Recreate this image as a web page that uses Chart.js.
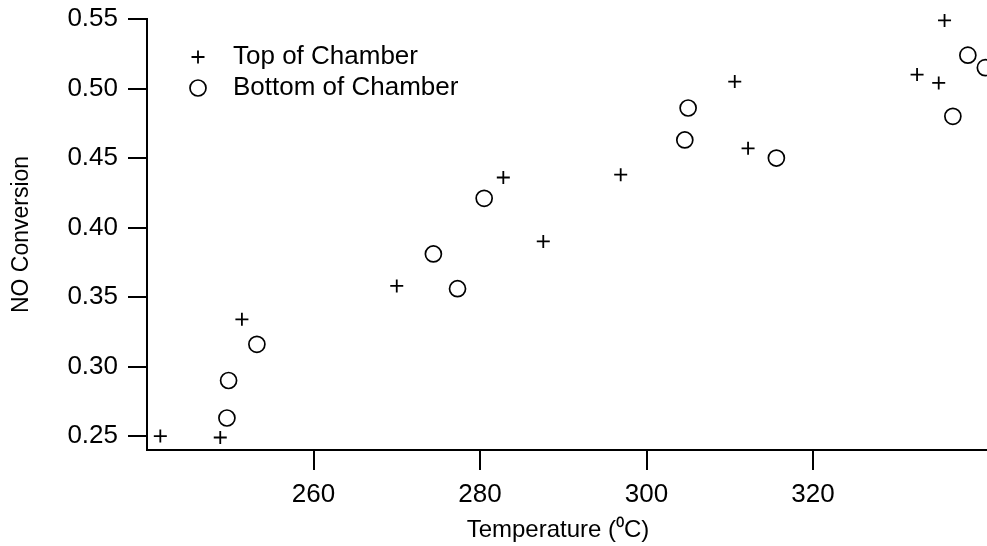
<!DOCTYPE html>
<html>
<head>
<meta charset="utf-8">
<script src="https://cdn.jsdelivr.net/npm/chart.js@4/dist/chart.umd.min.js"></script>
<style>
  html, body { margin: 0; padding: 0; background: #ffffff; }
  #wrap { width: 987px; height: 546px; position: relative; }
</style>
</head>
<body>
<div id="wrap"><canvas id="c" width="987" height="546"></canvas></div>
<script>
// ---- data ----
const topTemp    = [241.6, 248.8, 251.4, 270.0, 282.8, 287.6, 296.9, 310.6, 312.2, 332.5, 335.1, 335.8];
const topConv    = [0.250, 0.249, 0.334, 0.358, 0.436, 0.390, 0.438, 0.505, 0.457, 0.510, 0.504, 0.549];
const bottomTemp = [249.6, 249.8, 253.2, 274.4, 277.3, 280.5, 304.6, 305.0, 315.6, 336.8, 338.6, 340.7];
const bottomConv = [0.263, 0.290, 0.316, 0.381, 0.356, 0.421, 0.463, 0.486, 0.450, 0.480, 0.524, 0.515];
const xTickValues = [260, 280, 300, 320];
const yTickValues = [0.25, 0.30, 0.35, 0.40, 0.45, 0.50, 0.55];
const seriesNames = ['Top of Chamber', 'Bottom of Chamber'];
const xTitle = 'Temperature (\u2070C)';
const yTitle = 'NO Conversion';

const FONT = '"Liberation Sans", Arial, sans-serif';
const toPoints = (xs, ys) => xs.map((x, i) => ({ x: x, y: ys[i] }));

const innerLegend = {
  id: 'innerLegend',
  afterDraw(chart) {
    const ctx = chart.ctx;
    chart.data.datasets.forEach((ds, i) => {
      const y = 57 + i * 31;
      ctx.save();
      ctx.strokeStyle = '#000';
      ctx.fillStyle = 'rgba(0,0,0,0)';
      ctx.lineWidth = ds.borderWidth;
      Chart.helpers.drawPoint(ctx, {
        pointStyle: ds.pointStyle, radius: ds.pointRadius,
        borderWidth: ds.borderWidth, rotation: 0
      }, 198, y);
      ctx.fillStyle = '#000';
      ctx.font = '26px ' + FONT;
      ctx.textBaseline = 'middle';
      ctx.textAlign = 'left';
      ctx.fillText(ds.label, 233, y);
      ctx.restore();
    });
    // x-axis title, centred where the reference places it
    const xs = chart.scales.x;
    ctx.save();
    ctx.fillStyle = '#000';
    ctx.font = '24px ' + FONT;
    ctx.textAlign = 'center';
    ctx.textBaseline = 'middle';
    ctx.fillText(xTitle, xs.left + 411, xs.bottom - 16);
    ctx.restore();
  }
};

new Chart(document.getElementById('c'), {
  type: 'scatter',
  data: {
    datasets: [
      {
        label: seriesNames[0],
        data: toPoints(topTemp, topConv),
        pointStyle: 'cross',
        pointRadius: 6.5,
        borderWidth: 1.8,
        borderColor: '#000',
        backgroundColor: 'rgba(0,0,0,0)',
        clip: false
      },
      {
        label: seriesNames[1],
        data: toPoints(bottomTemp, bottomConv),
        pointStyle: 'circle',
        pointRadius: 8,
        borderWidth: 1.7,
        borderColor: '#000',
        backgroundColor: 'rgba(0,0,0,0)',
        clip: false
      }
    ]
  },
  options: {
    responsive: false,
    animation: false,
    events: [],
    layout: { autoPadding: false, padding: { top: 19, right: 0, bottom: 0, left: 0 } },
    plugins: { legend: { display: false }, tooltip: { enabled: false } },
    scales: {
      x: {
        type: 'linear',
        min: 240,
        max: 340.9,
        afterBuildTicks(scale) { scale.ticks = xTickValues.map(v => ({ value: v })); },
        afterFit(scale) { scale.height = 96; scale.paddingLeft = 0; scale.paddingRight = 0; },
        ticks: {
          color: '#000',
          font: { family: FONT, size: 26 },
          padding: 9,
          maxRotation: 0,
          callback: (v) => String(v)
        },
        grid: {
          drawOnChartArea: false,
          drawTicks: true,
          tickLength: 20,
          color: '#000',
          lineWidth: 2
        },
        border: { display: true, color: '#000', width: 2 },
        title: { display: false }
      },
      y: {
        type: 'linear',
        min: 0.24,
        max: 0.55,
        afterBuildTicks(scale) { scale.ticks = yTickValues.map(v => ({ value: v })); },
        afterFit(scale) { scale.width = 147; scale.paddingTop = 10; scale.paddingBottom = 10; },
        ticks: {
          color: '#000',
          font: { family: FONT, size: 26 },
          padding: 10,
          callback: (v) => Number(v).toFixed(2)
        },
        grid: {
          drawOnChartArea: false,
          drawTicks: true,
          tickLength: 19,
          color: '#000',
          lineWidth: 2
        },
        border: { display: true, color: '#000', width: 2 },
        title: {
          display: true,
          text: yTitle,
          color: '#000',
          font: { family: FONT, size: 23 },
          padding: { top: 8, bottom: 0 }
        }
      }
    }
  },
  plugins: [innerLegend]
});
</script>
</body>
</html>
